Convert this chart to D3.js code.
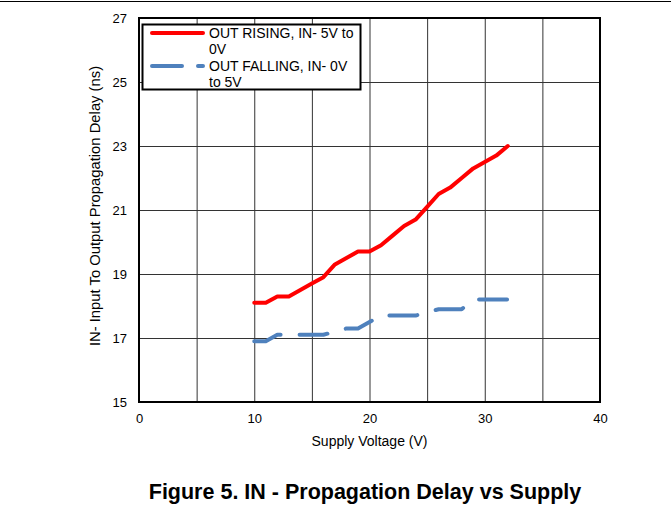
<!DOCTYPE html>
<html><head><meta charset="utf-8">
<script src="https://cdn.jsdelivr.net/npm/d3@7"></script>
<style>body{margin:0;background:#fff;} text{font-family:Arial,"Liberation Sans",sans-serif;}</style>
</head><body>
<svg id="chart" width="671" height="514"></svg>
<script>
const risingV = [10,11,12,13,14,15,16,17,18,19,20,21,22,23,24,25,26,27,28,29,30,31,32];
const risingD = [18.1,18.1,18.3,18.3,18.5,18.7,18.9,19.3,19.5,19.7,19.7,19.9,20.2,20.5,20.7,21.1,21.5,21.7,22.0,22.3,22.5,22.7,23.0];
const fallingV = [10,11,12,13,14,15,16,17,18,19,20,21,22,23,24,25,26,27,28,29,30,31,32];
const fallingD = [16.9,16.9,17.1,17.1,17.1,17.1,17.1,17.2,17.3,17.3,17.5,17.7,17.7,17.7,17.7,17.8,17.9,17.9,17.9,18.2,18.2,18.2,18.2];
const xTicks = [0,10,20,30,40];
const yTicks = [15,17,19,21,23,25,27];
const legendLabels = [["OUT RISING, IN- 5V to","0V"],["OUT FALLING, IN- 0V","to 5V"]];
const xTitle = "Supply Voltage (V)";
const yTitle = "IN- Input To Output Propagation Delay (ns)";
const caption = "Figure 5. IN - Propagation Delay vs Supply";

const svg = d3.select("#chart");
const L=139, R=600, T=18, B=402;
const x = d3.scaleLinear().domain([0,40]).range([L,R]);
const y = d3.scaleLinear().domain([15,27]).range([B,T]);

svg.append("line").attr("x1",0).attr("x2",671).attr("y1",1.5).attr("y2",1.5).attr("stroke","#000").attr("stroke-width",1);

// grid
const g = svg.append("g");
g.selectAll(".vg").data(d3.range(5,40,5)).join("line")
 .attr("x1",d=>x(d)+0.5).attr("x2",d=>x(d)+0.5).attr("y1",T).attr("y2",B)
 .attr("stroke","#333").attr("stroke-width",1);
g.selectAll(".hg").data([17,19,21,23,25]).join("line")
 .attr("y1",d=>y(d)+0.5).attr("y2",d=>y(d)+0.5).attr("x1",L).attr("x2",R)
 .attr("stroke","#333").attr("stroke-width",1);
svg.append("rect").attr("x",L).attr("y",T).attr("width",R-L).attr("height",B-T)
 .attr("fill","none").attr("stroke","#000").attr("stroke-width",2);

// axes labels
const xAxis = d3.axisBottom(x).tickValues(xTicks).tickSize(0).tickPadding(12);
const xa = svg.append("g").attr("transform",`translate(0,${B})`).call(xAxis);
xa.select(".domain").remove();
xa.selectAll("text").attr("font-size",13).attr("fill","#000").attr("font-family","Arial, 'Liberation Sans', sans-serif");
const yAxis = d3.axisLeft(y).tickValues(yTicks).tickSize(0).tickPadding(12);
const ya = svg.append("g").attr("transform",`translate(${L},0)`).call(yAxis);
ya.select(".domain").remove();
ya.selectAll("text").attr("font-size",13).attr("fill","#000").attr("font-family","Arial, 'Liberation Sans', sans-serif");

svg.append("text").attr("x",(L+R)/2).attr("y",446).attr("text-anchor","middle").attr("font-size",14).text(xTitle);
svg.append("text").attr("transform",`translate(100,206) rotate(-90)`).attr("text-anchor","middle").attr("font-size",14.8).text(yTitle);

// lines
const line = d3.line().x(d=>x(d[0])).y(d=>y(d[1]));
svg.append("path").datum(risingV.map((v,i)=>[v,risingD[i]])).attr("d",line)
 .attr("fill","none").attr("stroke","#FF0000").attr("stroke-width",4).attr("stroke-linejoin","round").attr("stroke-linecap","round");
svg.append("path").datum(fallingV.map((v,i)=>[v,fallingD[i]])).attr("d",line)
 .attr("fill","none").attr("stroke","#4F81BD").attr("stroke-width",4).attr("stroke-linejoin","round").attr("stroke-linecap","round")
 .attr("stroke-dasharray","28,19");

// legend
const lg = svg.append("g");
lg.append("rect").attr("x",142.5).attr("y",24.5).attr("width",218).attr("height",65).attr("fill","#fff").attr("stroke","#000").attr("stroke-width",2);
lg.append("line").attr("x1",152).attr("x2",203).attr("y1",33).attr("y2",33).attr("stroke","#FF0000").attr("stroke-width",4).attr("stroke-linecap","round");
lg.append("line").attr("x1",152).attr("x2",203).attr("y1",66).attr("y2",66).attr("stroke","#4F81BD").attr("stroke-width",4).attr("stroke-linecap","round").attr("stroke-dasharray","30,16");
legendLabels.forEach((lab,i)=>{
  lab.forEach((t,j)=>{
    lg.append("text").attr("x",209).attr("y",38+i*33+j*16).attr("font-size",14).text(t);
  });
});

svg.append("text").attr("x",365).attr("y",499).attr("text-anchor","middle").attr("font-size",21.5).attr("font-weight","bold").text(caption);
</script>
</body></html>
